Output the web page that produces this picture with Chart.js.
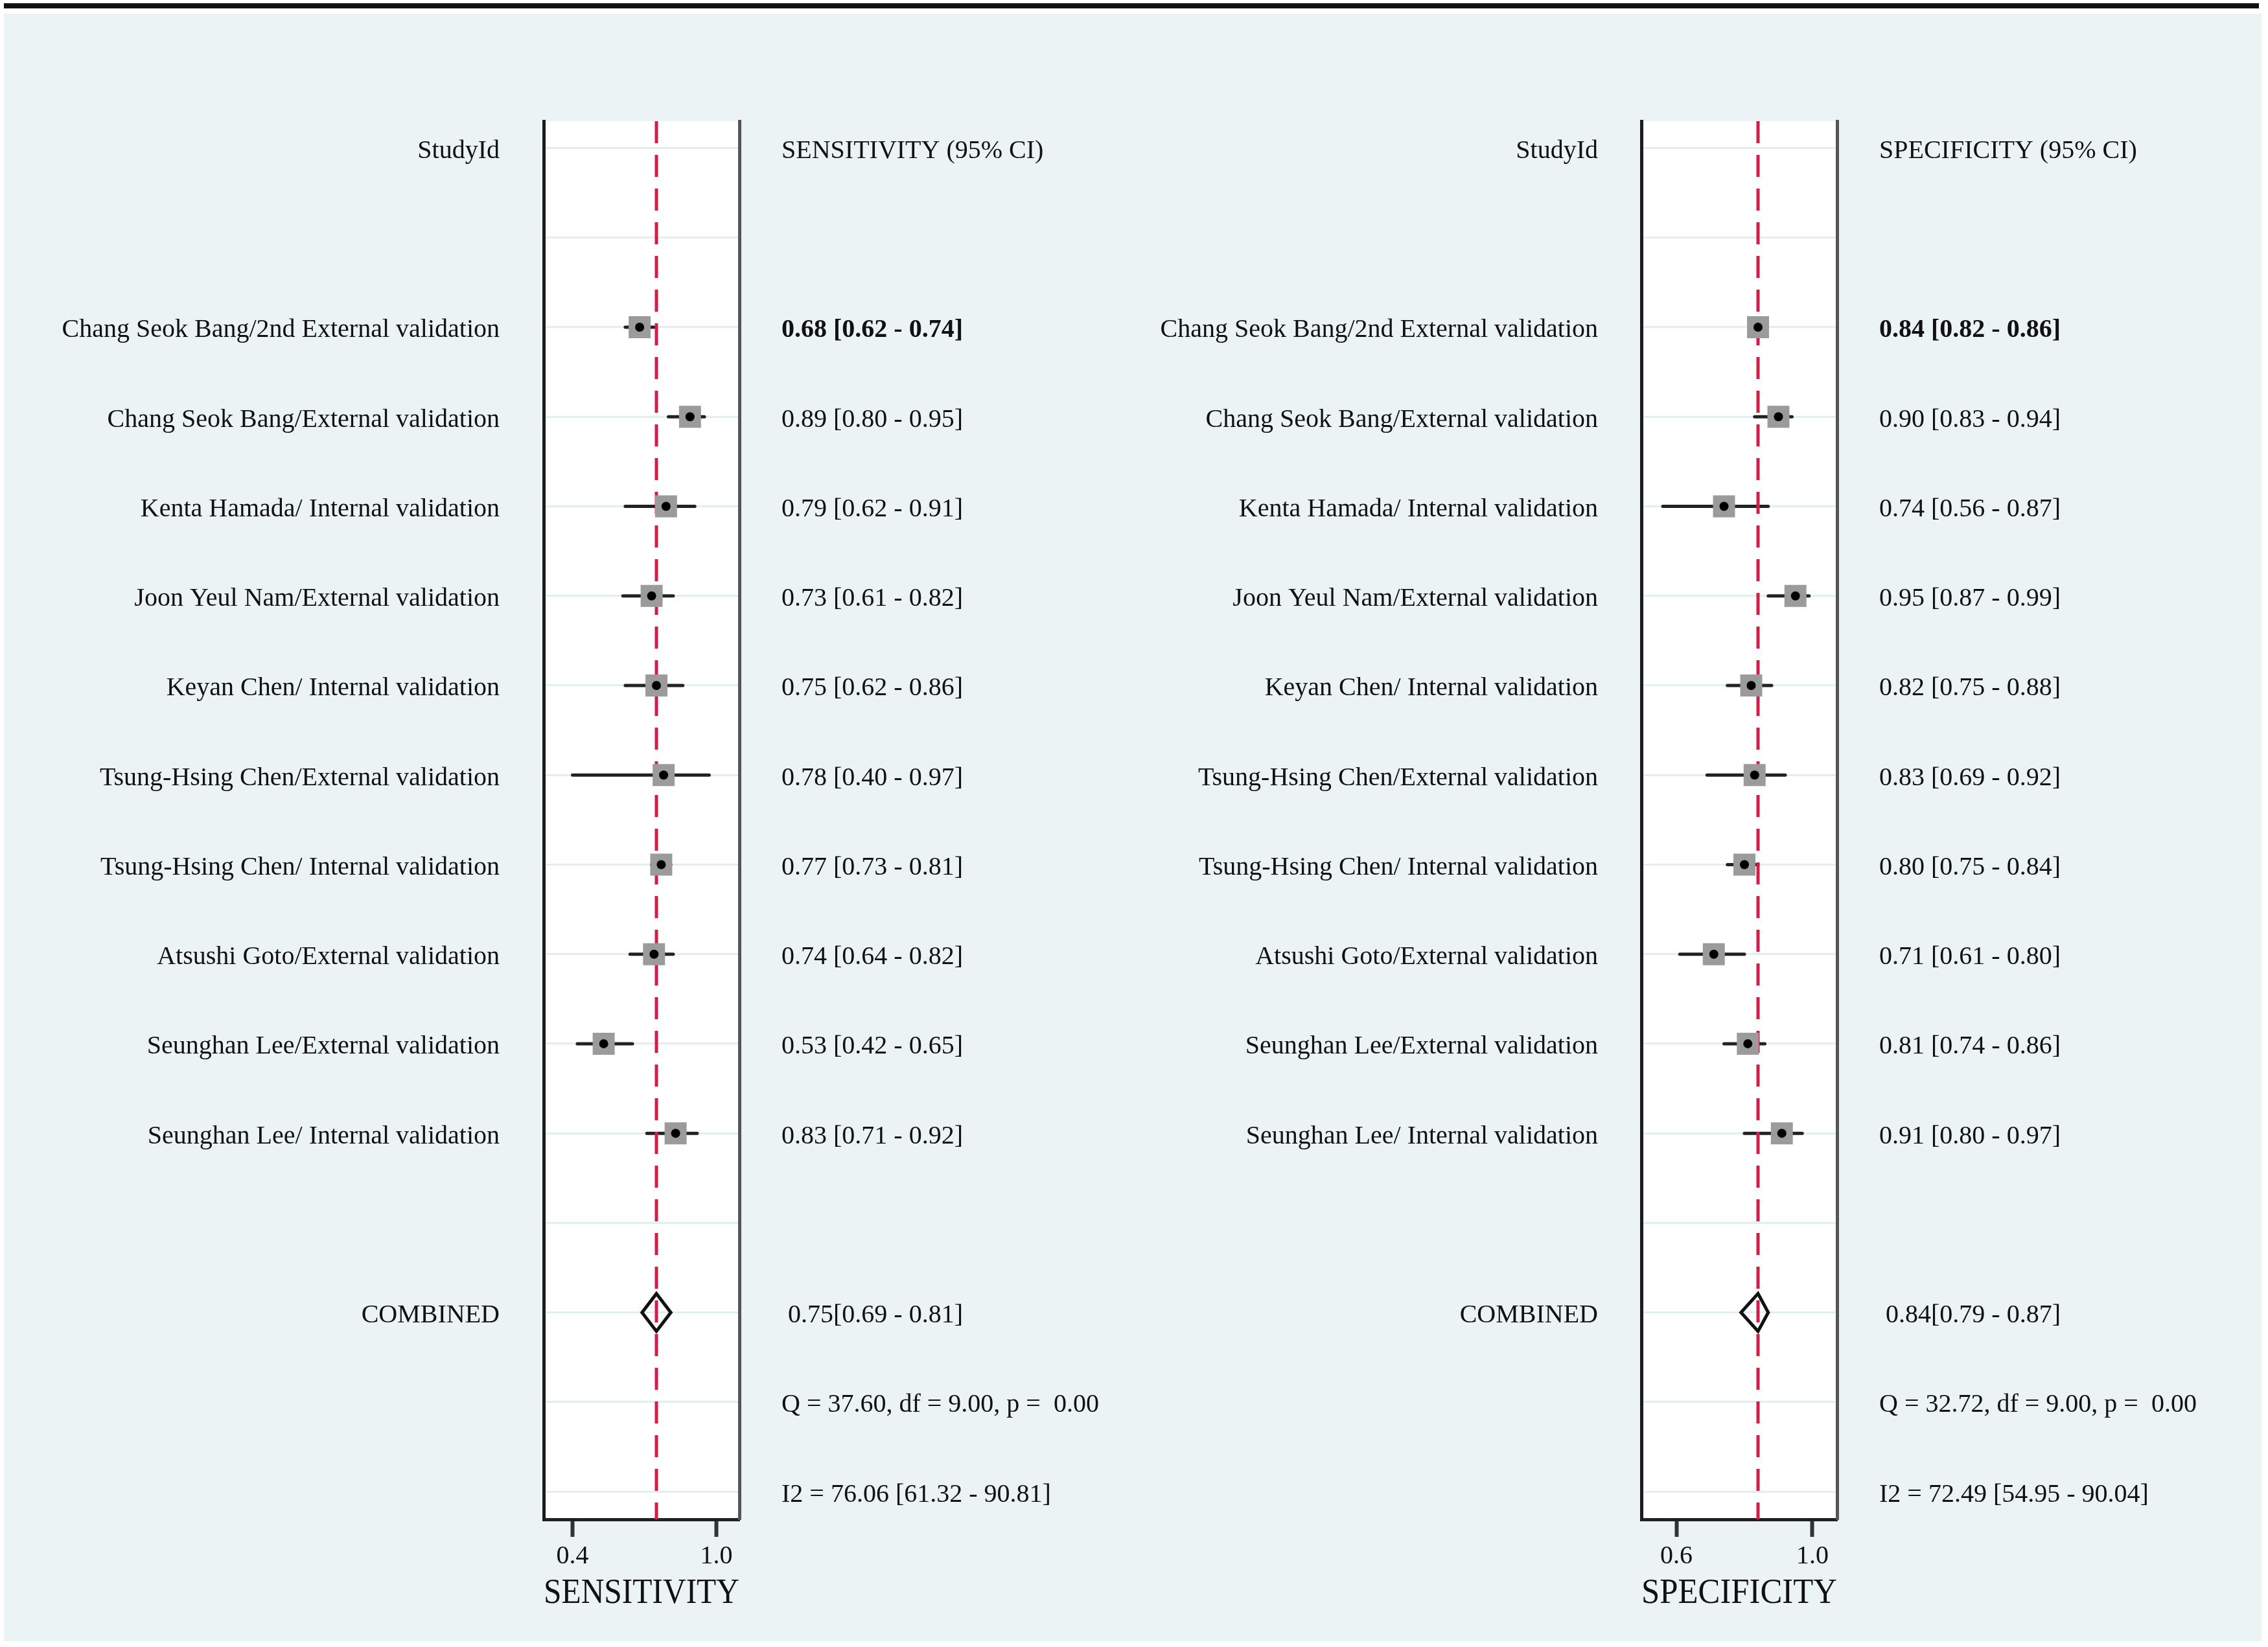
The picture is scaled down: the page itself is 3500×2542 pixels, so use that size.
<!DOCTYPE html>
<html>
<head>
<meta charset="utf-8">
<script src="https://cdn.jsdelivr.net/npm/chart.js@4/dist/chart.umd.min.js"></script>
<style>
  html, body { margin: 0; padding: 0; background: #fff; }
  body { width: 3500px; height: 2542px; position: relative; overflow: hidden; }
  #rule { position: absolute; left: 6px; top: 5px; width: 3480px; height: 8px; background: #111; }
  #panel { position: absolute; left: 6px; top: 21px; width: 3484px; height: 2512px; background: #ebf3f5; }
  #sens { position: absolute; left: 0; top: 0; }
  #spec { position: absolute; left: 1740px; top: 0; }
</style>
</head>
<body>
<div id="rule"></div>
<div id="panel">
  <canvas id="sens" width="1740" height="2512"></canvas>
  <canvas id="spec" width="1744" height="2512"></canvas>
</div>
<script>
// studies, top to bottom
const studies = [
  'Chang Seok Bang/2nd External validation',
  'Chang Seok Bang/External validation',
  'Kenta Hamada/ Internal validation',
  'Joon Yeul Nam/External validation',
  'Keyan Chen/ Internal validation',
  'Tsung-Hsing Chen/External validation',
  'Tsung-Hsing Chen/ Internal validation',
  'Atsushi Goto/External validation',
  'Seunghan Lee/External validation',
  'Seunghan Lee/ Internal validation'
];

const sensEst = [0.68, 0.89, 0.79, 0.73, 0.75, 0.78, 0.77, 0.74, 0.53, 0.83];
const sensLo  = [0.62, 0.80, 0.62, 0.61, 0.62, 0.40, 0.73, 0.64, 0.42, 0.71];
const sensHi  = [0.74, 0.95, 0.91, 0.82, 0.86, 0.97, 0.81, 0.82, 0.65, 0.92];
const sensPooled = [0.75, 0.69, 0.81];       // est, lo, hi
const sensQ  = [37.60, 9.00, 0.00];           // Q, df, p
const sensI2 = [76.06, 61.32, 90.81];
const sensTicks = [0.4, 1.0];

const specEst = [0.84, 0.90, 0.74, 0.95, 0.82, 0.83, 0.80, 0.71, 0.81, 0.91];
const specLo  = [0.82, 0.83, 0.56, 0.87, 0.75, 0.69, 0.75, 0.61, 0.74, 0.80];
const specHi  = [0.86, 0.94, 0.87, 0.99, 0.88, 0.92, 0.84, 0.80, 0.86, 0.97];
const specPooled = [0.84, 0.79, 0.87];
const specQ  = [32.72, 9.00, 0.00];
const specI2 = [72.49, 54.95, 90.04];
const specTicks = [0.6, 1.0];

// row layout of the forest plot
const ROW_HEADER = 0, FIRST_STUDY = 2, ROW_COMBINED = 13, ROW_Q = 14, ROW_I2 = 15;
const ROW_MIN = -0.30, ROW_MAX = 15.31;
const ROWS = Array.from({ length: 16 }, (_, i) => i);

const SERIF = "'Liberation Serif', 'Times New Roman', serif";
const INK = '#111';
const RED = '#d0204a';

const f2 = v => v.toFixed(2);

// white plot area on the tinted background
const plotBg = {
  id: 'plotBg',
  beforeDraw(chart) {
    const { ctx, chartArea: a } = chart;
    ctx.save();
    ctx.fillStyle = '#fff';
    ctx.fillRect(a.left, a.top, a.right - a.left, a.bottom - a.top);
    ctx.restore();
  }
};

function drawPanel(id, p) {
  const leftText = ROWS.map(() => '');
  const rightText = ROWS.map(() => '');
  leftText[ROW_HEADER] = 'StudyId';
  rightText[ROW_HEADER] = p.header;
  studies.forEach((s, i) => {
    leftText[FIRST_STUDY + i] = s;
    rightText[FIRST_STUDY + i] = `${f2(p.est[i])} [${f2(p.lo[i])} - ${f2(p.hi[i])}]`;
  });
  leftText[ROW_COMBINED] = 'COMBINED';
  rightText[ROW_COMBINED] = ` ${f2(p.pooled[0])}[${f2(p.pooled[1])} - ${f2(p.pooled[2])}]`;
  rightText[ROW_Q] = `Q = ${f2(p.q[0])}, df = ${f2(p.q[1])}, p =  ${f2(p.q[2])}`;
  rightText[ROW_I2] = `I2 = ${f2(p.i2[0])} [${f2(p.i2[1])} - ${f2(p.i2[2])}]`;

  const whiskers = [];
  p.est.forEach((e, i) => {
    whiskers.push({ x: p.lo[i], y: FIRST_STUDY + i }, { x: p.hi[i], y: FIRST_STUDY + i }, { x: null, y: null });
  });
  const centres = p.est.map((e, i) => ({ x: e, y: FIRST_STUDY + i }));
  const [pe, pl, ph] = p.pooled;
  const diamond = [
    { x: pl, y: ROW_COMBINED }, { x: pe, y: ROW_COMBINED - 0.21 },
    { x: ph, y: ROW_COMBINED }, { x: pe, y: ROW_COMBINED + 0.21 },
    { x: pl, y: ROW_COMBINED }, { x: pe, y: ROW_COMBINED - 0.21 }
  ];
  const refLine = [{ x: pe, y: ROW_MIN }, { x: pe, y: ROW_MAX }];

  const rowTicks = scale => { scale.ticks = ROWS.map(v => ({ value: v })); };

  new Chart(document.getElementById(id), {
    type: 'scatter',
    // first dataset is drawn on top
    data: {
      datasets: [
        { data: centres, pointStyle: 'circle', pointRadius: 7, pointBackgroundColor: '#000', pointBorderWidth: 0 },
        { data: centres, pointStyle: 'rect', pointRadius: 24, pointBackgroundColor: '#9b9b9b', pointBorderWidth: 0 },
        { data: diamond, showLine: true, borderColor: INK, borderWidth: 5, borderJoinStyle: 'miter', pointRadius: 0 },
        { data: refLine, showLine: true, borderColor: RED, borderWidth: 5, borderDash: [34, 18], pointRadius: 0 },
        { data: whiskers, showLine: true, spanGaps: false, borderColor: '#222', borderWidth: 5, borderCapStyle: 'round', pointRadius: 0 }
      ]
    },
    options: {
      responsive: false,
      animation: false,
      devicePixelRatio: 1,
      events: [],
      layout: { padding: { top: 166, bottom: 0, left: 0, right: 0 } },
      plugins: { legend: { display: false }, tooltip: { enabled: false } },
      scales: {
        x: {
          type: 'linear',
          min: p.xMin,
          max: p.xMax,
          afterBuildTicks: scale => { scale.ticks = p.xTicks.map(v => ({ value: v })); },
          afterFit: scale => { scale.height = 188; },
          grid: { drawOnChartArea: false, drawTicks: true, tickLength: 27, tickWidth: 6, tickColor: '#333' },
          border: { color: '#222', width: 5 },
          ticks: {
            autoSkip: false, maxRotation: 0, padding: 6, color: INK,
            font: { family: SERIF, size: 40 },
            callback: v => Number(v).toFixed(1)
          },
          title: { display: true, text: p.title, color: INK, font: { family: SERIF, size: 55 }, padding: { top: 0, bottom: 40 } }
        },
        y: {
          type: 'linear',
          position: 'left',
          reverse: true,
          min: ROW_MIN,
          max: ROW_MAX,
          afterBuildTicks: rowTicks,
          afterFit: scale => { scale.width = p.leftWidth; },
          grid: { color: '#e3eef1', lineWidth: 3, drawTicks: false },
          border: { color: '#1c1c1c', width: 5 },
          ticks: {
            autoSkip: false, padding: p.leftPad, labelOffset: 5, color: INK,
            font: { family: SERIF, size: 40 },
            callback: v => leftText[v]
          }
        },
        y2: {
          type: 'linear',
          position: 'right',
          reverse: true,
          min: ROW_MIN,
          max: ROW_MAX,
          afterBuildTicks: rowTicks,
          afterFit: scale => { scale.width = p.rightWidth; },
          grid: { display: false, drawTicks: false },
          border: { color: '#555', width: 5 },
          ticks: {
            autoSkip: false, padding: 65, labelOffset: 5, color: INK,
            font: ctx => ({ family: SERIF, size: 40, weight: ctx.index === FIRST_STUDY ? 'bold' : 'normal' }),
            callback: v => rightText[v]
          }
        }
      }
    },
    plugins: [plotBg]
  });
}

drawPanel('sens', {
  est: sensEst, lo: sensLo, hi: sensHi, pooled: sensPooled, q: sensQ, i2: sensI2,
  header: 'SENSITIVITY (95% CI)', title: 'SENSITIVITY',
  xMin: 0.2797, xMax: 1.0959, xTicks: sensTicks,
  leftWidth: 833, leftPad: 68, rightWidth: 605
});

drawPanel('spec', {
  est: specEst, lo: specLo, hi: specHi, pooled: specPooled, q: specQ, i2: specI2,
  header: 'SPECIFICITY (95% CI)', title: 'SPECIFICITY',
  xMin: 0.4971, xMax: 1.0724, xTicks: specTicks,
  leftWidth: 787, leftPad: 67, rightWidth: 655
});
</script>
</body>
</html>
